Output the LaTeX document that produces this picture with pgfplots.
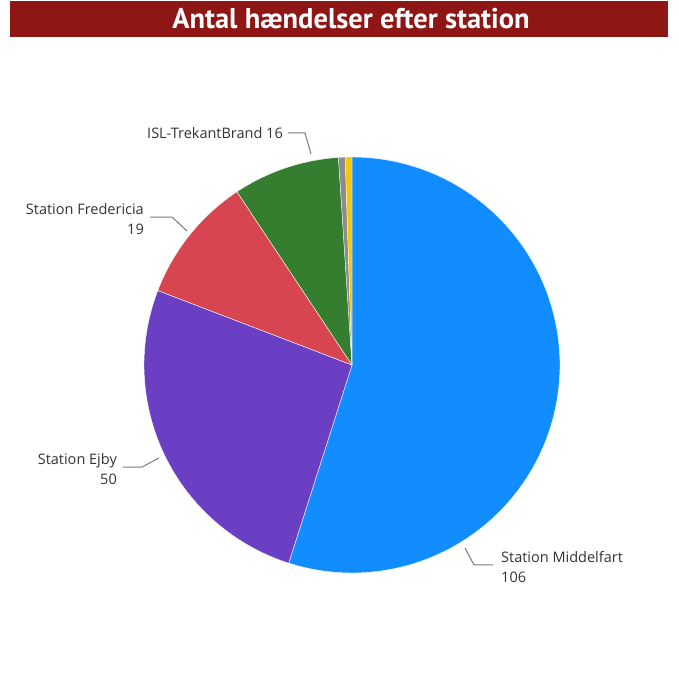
\documentclass[border=0pt]{standalone}
\usepackage{fontspec}
\setmainfont{Open Sans}
\newfontfamily\titlefont{PT Sans}
\usepackage{pgfplots}
\usepackage{pgfplotstable}
\pgfplotsset{compat=1.18}
\definecolor{banner}{HTML}{8E1716}
\definecolor{cBlue}{HTML}{118DFF}
\definecolor{cPurple}{HTML}{6A3FC4}
\definecolor{cRed}{HTML}{D64550}
\definecolor{cGreen}{HTML}{357D2F}
\definecolor{cGrey}{HTML}{8C8C8C}
\definecolor{cYellow}{HTML}{F2C80F}
\definecolor{txt}{HTML}{333333}
\definecolor{lead}{HTML}{7A7A7A}
% Data: Antal haendelser efter station
\pgfplotstableread{
station value
Middelfart 106
Ejby 50
Fredericia 19
ISL 16
Other1 1
Other2 1
}\pietable
\begin{document}
\begin{tikzpicture}[x=1pt,y=1pt]
\path[use as bounding box] (0,0) rectangle (679,678);
% title banner
\fill[banner] (10,641) rectangle (668,677);
\node[text=white,font=\titlefont\bfseries\fontsize{28.5}{32}\selectfont] at (351,659) {Antal hændelser efter station};
% values
\pgfplotstablegetelem{0}{value}\of\pietable\let\vA\pgfplotsretval
\pgfplotstablegetelem{1}{value}\of\pietable\let\vB\pgfplotsretval
\pgfplotstablegetelem{2}{value}\of\pietable\let\vC\pgfplotsretval
\pgfplotstablegetelem{3}{value}\of\pietable\let\vD\pgfplotsretval
\pgfplotstablegetelem{4}{value}\of\pietable\let\vE\pgfplotsretval
\pgfplotstablegetelem{5}{value}\of\pietable\let\vF\pgfplotsretval
\pgfmathsetmacro{\tot}{\vA+\vB+\vC+\vD+\vE+\vF}
\pgfmathsetmacro{\aA}{360*(\vA/\tot)}
\pgfmathsetmacro{\aB}{\aA+360*(\vB/\tot)}
\pgfmathsetmacro{\aC}{\aB+360*(\vC/\tot)}
\pgfmathsetmacro{\aD}{\aC+360*(\vD/\tot)}
\pgfmathsetmacro{\aE}{\aD+360*(\vE/\tot)}
\begin{axis}[
  at={(352pt,313pt)}, anchor=center,
  scale only axis, width=416pt, height=416pt,
  xmin=-1, xmax=1, ymin=-1, ymax=1,
  axis lines=none, clip=false,
  samples=90, variable=\t,
]
\addplot[fill=cBlue, draw=white, line width=0.4pt, domain=0:\aA] ({sin(\t)},{cos(\t)}) -- (axis cs:0,0) -- cycle;
\addplot[fill=cPurple, draw=white, line width=0.4pt, domain=\aA:\aB] ({sin(\t)},{cos(\t)}) -- (axis cs:0,0) -- cycle;
\addplot[fill=cRed, draw=white, line width=0.4pt, domain=\aB:\aC] ({sin(\t)},{cos(\t)}) -- (axis cs:0,0) -- cycle;
\addplot[fill=cGreen, draw=white, line width=0.4pt, domain=\aC:\aD] ({sin(\t)},{cos(\t)}) -- (axis cs:0,0) -- cycle;
\addplot[fill=cGrey, draw=white, line width=0.3pt, domain=\aD:\aE, samples=10] ({sin(\t)},{cos(\t)}) -- (axis cs:0,0) -- cycle;
\addplot[fill=cYellow, draw=white, line width=0.3pt, domain=\aE:360, samples=10] ({sin(\t)},{cos(\t)}) -- (axis cs:0,0) -- cycle;
% leader lines
\addplot[lead, line width=1pt, mark=none] coordinates {(-0.3077,1.1154) (-0.2260,1.1154) (-0.1971,1.0144)};
\addplot[lead, line width=1pt, mark=none] coordinates {(-0.9712,0.7115) (-0.8654,0.7115) (-0.7933,0.6442)};
\addplot[lead, line width=1pt, mark=none] coordinates {(-1.1010,-0.4904) (-1.0096,-0.4904) (-0.9279,-0.4471)};
\addplot[lead, line width=1pt, mark=none] coordinates {(0.5433,-0.8798) (0.5865,-0.9615) (0.6779,-0.9615)};
\end{axis}
% labels
\begin{scope}[every node/.style={text=txt,font=\fontsize{14.5}{20}\selectfont,inner sep=0pt}]
\node[anchor=east] at (283,545) {ISL-TrekantBrand 16};
\node[anchor=east,align=right] at (144,459) {Station Fredericia\\19};
\node[anchor=east,align=right] at (117,209) {Station Ejby\\50};
\node[anchor=west,align=left] at (501,111) {Station Middelfart\\106};
\end{scope}
\end{tikzpicture}
\end{document}
